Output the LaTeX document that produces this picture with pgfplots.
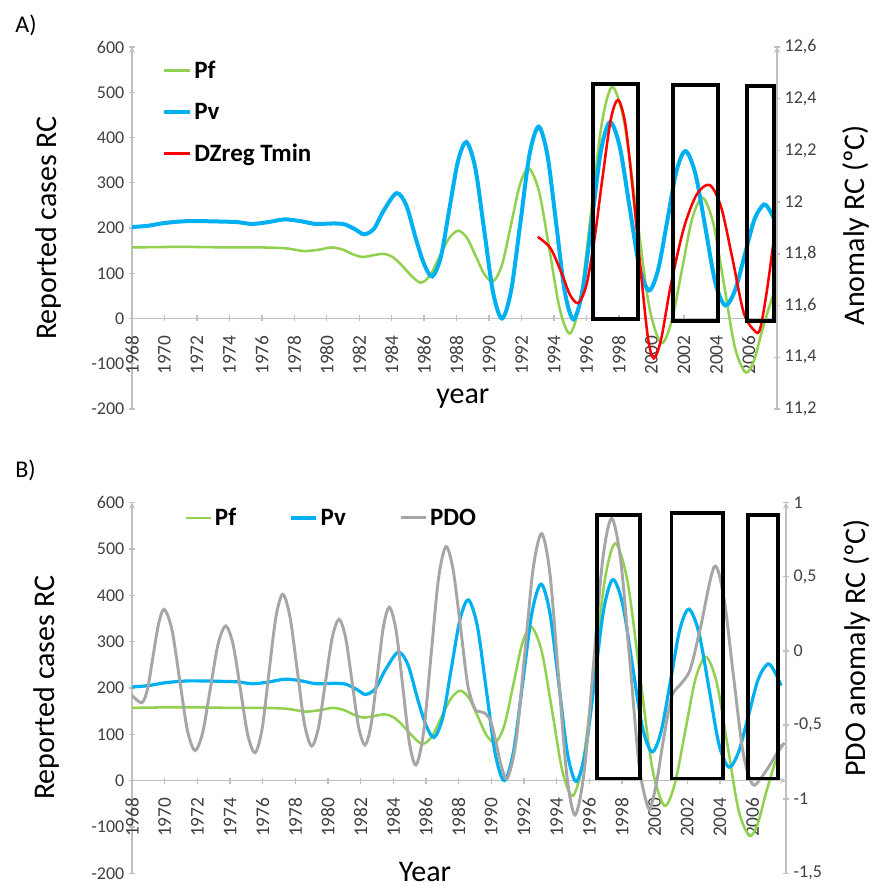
\documentclass[border=0pt]{standalone}
\usepackage{pgfplots}
\pgfplotsset{compat=1.18}
\usepackage{fontspec}
\setmainfont{Carlito}

\definecolor{pfgreen}{HTML}{92D050}
\definecolor{pvblue}{HTML}{00B0F0}
\definecolor{tred}{HTML}{FF0000}
\definecolor{pdogray}{HTML}{A6A6A6}
\definecolor{axgray}{HTML}{BFBFBF}
\definecolor{tickgray}{HTML}{404040}

\pgfplotstableread{
year val
1968 202
1969 205
1970 211
1971.3 215
1972.5 215
1973.7 214
1974.5 213
1975.4 209
1976.4 213
1977.4 219
1978.4 215
1979.3 209
1980.4 210
1981.1 208
1981.8 196
1982.3 186
1982.9 198
1983.5 238
1984.3 277
1984.9 250
1985.5 175
1986.0 120
1986.5 93
1987.03 136
1987.55 241
1988.08 347
1988.6 390
1989.15 333
1989.7 195
1990.25 57
1990.8 0
1991.36 62
1991.93 212
1992.49 362
1993.05 424
1993.59 362
1994.13 211
1994.66 60
1995.2 -2
1995.76 62
1996.33 216
1996.89 370
1997.45 434
1998.05 380
1998.65 248
1999.25 116
1999.85 62
2000.41 107
2000.98 216
2001.54 325
2002.1 370
2002.71 320
2003.33 200
2003.94 79
2004.55 29
2005.15 62
2005.75 140
2006.35 219
2006.95 252
2007.4 232
2007.75 205
}\pv

\pgfplotstableread{
year val
1968 157
1970 158
1972 158
1974 157
1976 157
1977.5 155
1978.6 149
1979.5 152
1980.3 157
1981.0 152
1981.6 142
1982.2 136
1982.9 140
1983.5 143
1984.0 137
1984.5 122
1985.2 95
1985.8 79
1986.38 96
1986.95 137
1987.53 177
1988.1 194
1988.64 178
1989.18 138
1989.71 98
1990.25 82
1990.8 119
1991.35 207
1991.9 296
1992.45 332
1993.09 279
1993.73 150
1994.36 20
1995.0 -33
1995.65 47
1996.3 240
1996.95 432
1997.6 512
1998.35 429
1999.1 229
1999.85 29
2000.6 -54
2001.24 -7
2001.88 107
2002.51 220
2003.15 267
2003.81 211
2004.48 74
2005.14 -63
2005.8 -119
2006.3 -95
2006.8 -30
2007.3 30
2007.75 78
}\pf

\pgfplotstableread{
year val
1993.0 11.866
1993.8 11.82
1994.5 11.72
1995.0 11.64
1995.5 11.61
1996.0 11.68
1996.5 11.86
1997.0 12.1
1997.5 12.32
1997.95 12.395
1998.4 12.3
1998.9 12.02
1999.4 11.7
1999.8 11.47
2000.15 11.396
2000.6 11.47
2001.2 11.68
2002.0 11.9
2002.8 12.03
2003.6 12.066
2004.3 11.98
2005.0 11.78
2005.7 11.57
2006.4 11.50
2006.7 11.51
2007.1 11.65
2007.6 11.88
}\dzreg

\pgfplotstableread{
year val
1968.0 -0.30
1968.6 -0.35
1968.95 -0.258
1969.29 -0.035
1969.64 0.188
1969.98 0.28
1970.45 0.141
1970.92 -0.197
1971.39 -0.534
1971.86 -0.673
1972.33 -0.550
1972.8 -0.253
1973.27 0.045
1973.74 0.168
1974.19 0.043
1974.64 -0.26
1975.08 -0.562
1975.53 -0.687
1975.96 -0.531
1976.38 -0.153
1976.81 0.226
1977.23 0.382
1977.67 0.232
1978.12 -0.13
1978.56 -0.492
1979.0 -0.642
1979.42 -0.517
1979.84 -0.215
1980.26 0.088
1980.68 0.213
1981.08 0.089
1981.48 -0.211
1981.87 -0.511
1982.27 -0.635
1982.64 -0.499
1983.02 -0.171
1983.39 0.158
1983.76 0.294
1984.17 0.139
1984.58 -0.238
1984.98 -0.615
1985.39 -0.77
1985.85 -0.555
1986.31 -0.034
1986.77 0.488
1987.23 0.703
1987.67 0.543
1988.12 0.157
1988.56 -0.23
1989.0 -0.39
1989.3 -0.41
1989.6 -0.42
1989.95 -0.47
1990.3 -0.62
1990.6 -0.77
1990.98 -0.86
1991.51 -0.619
1992.04 -0.035
1992.56 0.55
1993.09 0.791
1993.6 0.514
1994.11 -0.158
1994.62 -0.83
1995.13 -1.107
1995.69 -0.815
1996.25 -0.107
1996.81 0.602
1997.37 0.894
1997.93 0.608
1998.5 -0.084
1999.06 -0.776
1999.62 -1.062
1999.9 -1.0
2000.2 -0.84
2000.54 -0.601
2001.05 -0.309
2001.56 -0.23
2002.17 -0.129
2002.78 0.141
2003.66 0.568
2004.25 0.354
2004.83 -0.166
2005.42 -0.686
2006.0 -0.9
2006.5 -0.86
2007.0 -0.78
2007.5 -0.69
2007.95 -0.62
}\pdo

\pgfplotsset{
  panel/.style={
    scale only axis, anchor=south west, xmin=1968,
    axis line style={draw=axgray, line width=1pt, -},
    every tick/.style={draw=axgray, line width=1pt},
    major tick length=4.5pt, tick align=outside,
    tick label style={font=\fontsize{13.5}{16}\selectfont, text=tickgray},
    /pgf/number format/assume math mode=true,
  },
  leftax/.style={panel,
    axis y line=left, axis x line=middle,
    hide obscured x ticks=false, hide obscured y ticks=false,
    ymin=-200, ymax=600, ytick={-200,-100,...,600},
    xtick={1968,1970,...,2006},
    xticklabel style={yshift=-7pt, rotate=90, anchor=east,
      font=\fontsize{14.5}{17}\selectfont, /pgf/number format/1000 sep={}},
    ylabel={Reported cases RC},
    ylabel style={at={(axis description cs:-0.13,0.5)}, anchor=center,
      font=\fontsize{22.5}{27}\selectfont},
  },
  rightax/.style={panel,
    axis y line=right, axis x line=none,
    yticklabel style={/pgf/number format/.cd, use comma, fixed, precision=1},
    ylabel style={anchor=center, font=\fontsize{22.5}{27}\selectfont},
  },
  legimg/.style={legend image code/.code={\draw[##1] (0pt,0pt) -- (19pt,0pt);}},
}

\begin{document}
\begin{tikzpicture}
\path[use as bounding box] (0,0) rectangle (654pt,666.75pt);

\node[anchor=west, font=\fontsize{18}{22}\selectfont] at (8pt,648pt) {A)};
\node[anchor=west, font=\fontsize{18}{22}\selectfont] at (8pt,314.25pt) {B)};

% ---- panel A ----
\begin{axis}[leftax, at={(99pt,360pt)}, width=483.75pt, height=271.5pt, xmax=2007.74,
  xlabel={year}, xlabel style={at={(axis description cs:0.513,0.014)}, anchor=base,
    inner sep=0pt, font=\fontsize{22.5}{27}\selectfont}]
\addplot[pfgreen, line width=1.9pt, smooth] table[x=year, y=val] {\pf};
\addplot[pvblue, line width=3pt, smooth] table[x=year, y=val] {\pv};
\end{axis}
\begin{axis}[rightax, at={(99pt,360pt)}, width=483.75pt, height=271.5pt, xmax=2007.74,
  ymin=11.2, ymax=12.6, ytick={11.2,11.4,11.6,11.8,12,12.2,12.4,12.6},
  ylabel={Anomaly RC (ºC)},
  ylabel style={at={(axis description cs:1.1225,0.508)}},
  legimg, legend cell align=left,
  legend style={draw=none, fill=none, at={(axis description cs:0.0403,0.8204)}, anchor=west,
    font=\fontsize{18.75}{22}\selectfont\bfseries, row sep=13pt}]
\addlegendimage{pfgreen, line width=1.9pt}\addlegendentry{Pf}
\addlegendimage{pvblue, line width=3pt}\addlegendentry{Pv}
\addplot[tred, line width=1.9pt, smooth] table[x=year, y=val] {\dzreg};
\addlegendentry{DZreg Tmin}
\addplot[black, line width=2.8pt, line join=miter, forget plot] coordinates {(1996.42,11.547) (1999.19,11.547) (1999.19,12.457) (1996.42,12.457) (1996.42,11.547)} -- cycle;
\addplot[black, line width=2.8pt, line join=miter, forget plot] coordinates {(2001.31,11.541) (2004.12,11.541) (2004.12,12.452) (2001.31,12.452) (2001.31,11.541)} -- cycle;
\addplot[black, line width=2.8pt, line join=miter, forget plot] coordinates {(2005.89,11.541) (2007.57,11.541) (2007.57,12.449) (2005.89,12.449) (2005.89,11.541)} -- cycle;
\end{axis}

% ---- panel B ----
\begin{axis}[leftax, at={(99pt,11.8pt)}, width=490.5pt, height=278pt, xmax=2008.05,
  xlabel={Year}, xlabel style={at={(axis description cs:0.448,-0.022)}, anchor=base,
    inner sep=0pt, font=\fontsize{22.5}{27}\selectfont}]
\addplot[pfgreen, line width=1.9pt, smooth] table[x=year, y=val] {\pf};
\addplot[pvblue, line width=2.4pt, smooth] table[x=year, y=val] {\pv};
\end{axis}
\begin{axis}[rightax, at={(99pt,11.8pt)}, width=490.5pt, height=278pt, xmax=2008.05,
  ymin=-1.5, ymax=1, ytick={-1.5,-1,-0.5,0,0.5,1},
  ylabel={PDO anomaly RC (ºC)},
  ylabel style={at={(axis description cs:1.109,0.608)}},
  legimg, legend columns=3,
  legend style={draw=none, fill=none, at={(axis description cs:0.0734,0.9587)}, anchor=west,
    font=\fontsize{18.75}{22}\selectfont\bfseries,
    /tikz/every even column/.append style={column sep=38pt}}]
\addlegendimage{pfgreen, line width=1.9pt}\addlegendentry{Pf}
\addlegendimage{pvblue, line width=2.4pt}\addlegendentry{Pv}
\addplot[pdogray, line width=2.2pt, smooth] table[x=year, y=val] {\pdo};
\addlegendentry{PDO}
\addplot[black, line width=2.8pt, line join=miter, forget plot] coordinates {(1996.46,-0.86) (1999.11,-0.86) (1999.11,0.917) (1996.46,0.917) (1996.46,-0.86)} -- cycle;
\addplot[black, line width=2.8pt, line join=miter, forget plot] coordinates {(2001.03,-0.86) (2004.21,-0.86) (2004.21,0.928) (2001.03,0.928) (2001.03,-0.86)} -- cycle;
\addplot[black, line width=2.8pt, line join=miter, forget plot] coordinates {(2005.74,-0.86) (2007.58,-0.86) (2007.58,0.917) (2005.74,0.917) (2005.74,-0.86)} -- cycle;
\end{axis}
\end{tikzpicture}
\end{document}
